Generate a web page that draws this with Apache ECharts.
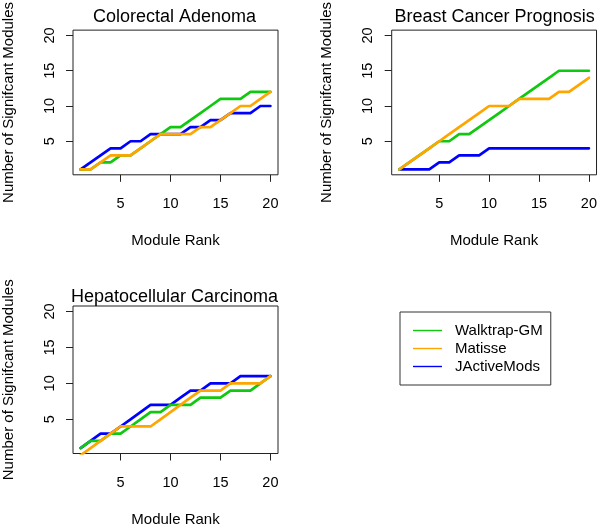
<!DOCTYPE html>
<html><head><meta charset="utf-8">
<script src="https://cdn.jsdelivr.net/npm/echarts@6/dist/echarts.min.js"></script>
<style>html,body{margin:0;padding:0;background:#fff}#c{width:600px;height:528px}</style>
</head><body><div id="c"></div>
<script>
// ---- data ----
const ranks = [1,2,3,4,5,6,7,8,9,10,11,12,13,14,15,16,17,18,19,20];
const xTickValues = [5,10,15,20];
const yTickValues = [5,10,15,20];
const seriesNames = ['Walktrap-GM','Matisse','JActiveMods'];
const panelTitles = ['Colorectal Adenoma','Breast Cancer Prognosis','Hepatocellular Carcinoma'];
const xAxisTitle = 'Module Rank';
const yAxisTitle = 'Number of Signifcant Modules';

const colorectalWalktrap = [1,1,2,2,3,3,4,5,6,7,7,8,9,10,11,11,11,12,12,12];
const colorectalMatisse  = [1,1,2,3,3,3,4,5,6,6,6,6,7,7,8,9,10,10,11,12];
const colorectalJActive  = [1,2,3,4,4,5,5,6,6,6,6,7,7,8,8,9,9,9,10,10];

const breastWalktrap = [1,2,3,4,5,5,6,6,7,8,9,10,11,12,13,14,15,15,15,15];
const breastMatisse  = [1,2,3,4,5,6,7,8,9,10,10,10,11,11,11,11,12,12,13,14];
const breastJActive  = [1,1,1,1,2,2,3,3,3,4,4,4,4,4,4,4,4,4,4,4];

const hepatoWalktrap = [1,2,2,3,3,4,5,6,6,7,7,7,8,8,8,9,9,9,10,11];
const hepatoMatisse  = [0,1,2,3,4,4,4,4,5,6,7,8,9,9,9,10,10,10,10,11];
const hepatoJActive  = [1,2,3,3,4,5,6,7,7,7,8,9,9,10,10,10,11,11,11,11];

// ---- styling / layout ----
const FONT = "'Liberation Sans', Arial, sans-serif";
const COLORS = {'Walktrap-GM':'#10C810','Matisse':'#FFA500','JActiveMods':'#0000FF'};
const panels = [
  {title: panelTitles[0], grid:{left:71, top:25.5, width:207, height:149.3}, titleTop:8,
   data:{'Walktrap-GM':colorectalWalktrap,'Matisse':colorectalMatisse,'JActiveMods':colorectalJActive}},
  {title: panelTitles[1], grid:{left:391.7, top:25.5, width:205.8, height:149.3}, titleTop:8,
   data:{'Walktrap-GM':breastWalktrap,'Matisse':breastMatisse,'JActiveMods':breastJActive}},
  {title: panelTitles[2], grid:{left:71, top:306, width:207, height:150}, titleTop:288,
   data:{'Walktrap-GM':hepatoWalktrap,'Matisse':hepatoMatisse,'JActiveMods':hepatoJActive}}
];
const drawOrder = ['JActiveMods','Walktrap-GM','Matisse'];

const option = {
  animation:false,
  backgroundColor:'#fff',
  textStyle:{fontFamily:FONT},
  title: panels.map(p=>({
    text:p.title, left:p.grid.left + p.grid.width/2, top:p.titleTop, textAlign:'center', padding:0,
    textStyle:{fontFamily:FONT, fontSize:18, fontWeight:'normal', color:'#000'}
  })),
  grid: panels.map(p=>Object.assign({show:true, borderColor:'#222', borderWidth:1, backgroundColor:'transparent'}, p.grid)),
  xAxis: panels.map((p,i)=>({
    type:'value', gridIndex:i, min:0.24, max:20.76,
    name:xAxisTitle, nameLocation:'middle', nameGap:58.5,
    nameTextStyle:{fontFamily:FONT, fontSize:15, color:'#000'},
    axisLine:{show:false},
    axisTick:{show:true, length:7, inside:false, customValues:xTickValues, lineStyle:{color:'#222', width:1}},
    axisLabel:{show:true, customValues:xTickValues, margin:22, fontFamily:FONT, fontSize:14.5, color:'#000'},
    splitLine:{show:false}
  })),
  yAxis: panels.map((p,i)=>({
    type:'value', gridIndex:i, min:0.24, max:20.76,
    name:yAxisTitle, nameLocation:'middle', nameGap:57, nameRotate:90,
    nameTextStyle:{fontFamily:FONT, fontSize:15, color:'#000'},
    axisLine:{show:false},
    axisTick:{show:true, length:7, inside:false, customValues:yTickValues, lineStyle:{color:'#222', width:1}},
    axisLabel:{show:true, customValues:yTickValues, rotate:90, margin:16, fontFamily:FONT, fontSize:14.5, color:'#000'},
    splitLine:{show:false}
  })),
  legend:{
    data:seriesNames, orient:'vertical', left:400, top:312,
    icon:'rect', padding:[11,8,11,13], itemWidth:29, itemHeight:1.4, itemGap:3,
    borderColor:'#333', borderWidth:1,
    textStyle:{fontFamily:FONT, fontSize:15, color:'#000', padding:[0,0,0,8]}
  },
  series: []
};
panels.forEach((p,i)=>{
  drawOrder.forEach(name=>{
    option.series.push({
      type:'line', name:name, xAxisIndex:i, yAxisIndex:i,
      data: ranks.map((r,j)=>[r, p.data[name][j]]),
      symbol:'none', clip:true,
      itemStyle:{color:COLORS[name]},
      lineStyle:{color:COLORS[name], width:2.7, join:'round', cap:'round'}
    });
  });
});
const chart = echarts.init(document.getElementById('c'), null, {renderer:'canvas'});
chart.setOption(option);
</script></body></html>
